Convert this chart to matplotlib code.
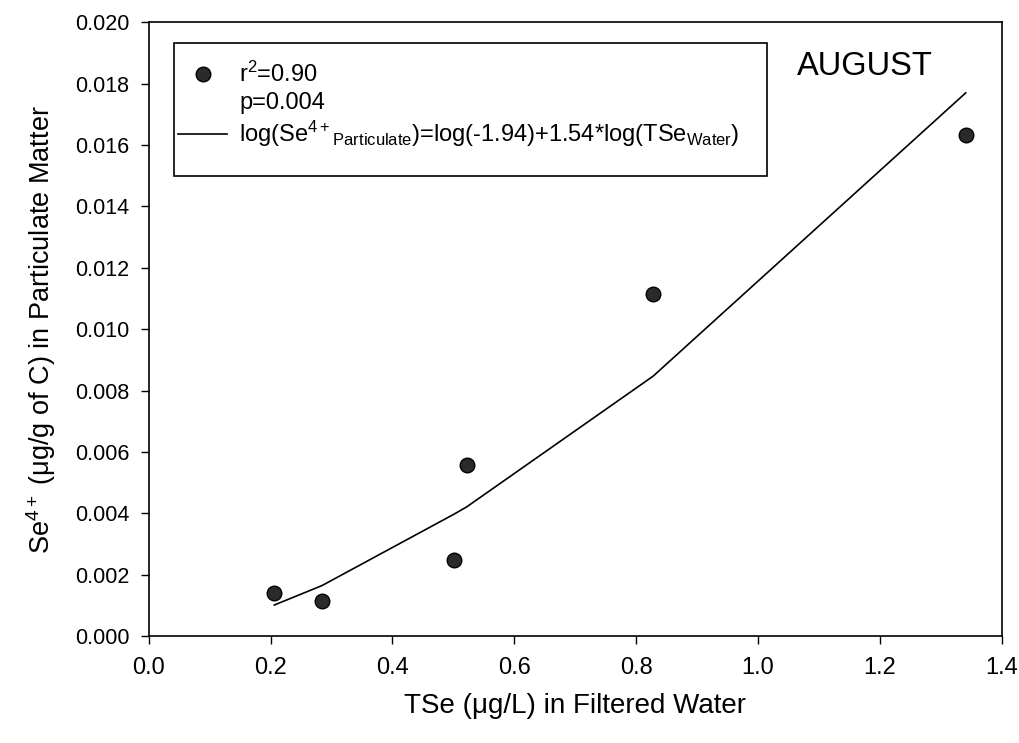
import matplotlib
matplotlib.use("Agg")
import matplotlib.pyplot as plt
from matplotlib.lines import Line2D
from matplotlib.patches import Rectangle

plt.rcParams['font.family'] = ['Liberation Sans', 'DejaVu Sans']
plt.rcParams['mathtext.fontset'] = 'custom'
plt.rcParams['mathtext.rm'] = 'Liberation Sans'
plt.rcParams['mathtext.it'] = 'Liberation Sans:italic'
plt.rcParams['mathtext.bf'] = 'Liberation Sans:bold'

# data
tse_water = [0.206, 0.284, 0.501, 0.522, 0.828, 1.341]
se4_particulate = [0.00139, 0.00114, 0.00248, 0.00557, 0.01113, 0.01632]
fit_values = [0.00101, 0.00164, 0.00397, 0.00421, 0.00847, 0.0177]

x_ticks = [0.0, 0.2, 0.4, 0.6, 0.8, 1.0, 1.2, 1.4]
y_ticks = [0.000, 0.002, 0.004, 0.006, 0.008, 0.010, 0.012, 0.014, 0.016, 0.018, 0.020]

fig = plt.figure(figsize=(10.19, 7.43), dpi=100)
ax = fig.add_axes([0.146, 0.144, 0.837, 0.826])

ax.plot(tse_water, se4_particulate, 'o', color='#2a2a2a', markeredgecolor='black',
        markersize=10.5, zorder=3)
ax.plot(tse_water, fit_values, '-', color='black', linewidth=1.2)

ax.set_xlim(0, 1.4)
ax.set_ylim(0, 0.020)
ax.set_xticks(x_ticks)
ax.set_yticks(y_ticks)
ax.set_xticklabels(['%.1f' % v for v in x_ticks])
ax.set_yticklabels(['%.3f' % v for v in y_ticks])
ax.tick_params(direction='out', length=6, width=1, pad=8, colors='black')
ax.tick_params(axis='y', labelsize=15.5)
ax.tick_params(axis='x', labelsize=17, pad=9)

for s in ax.spines.values():
    s.set_linewidth(1.2)

ax.set_xlabel('TSe (μg/L) in Filtered Water', fontsize=20, labelpad=10)
ax.set_ylabel('Se$^{4+}$ (μg/g of C) in Particulate Matter', fontsize=19.5, labelpad=12)

# legend box drawn separately so its padding can follow the original
ax.add_patch(Rectangle((0.0293, 0.749), 0.696, 0.217, transform=ax.transAxes,
                       fill=False, edgecolor='black', linewidth=1.2, zorder=4))

handles = [
    Line2D([], [], marker='o', linestyle='none', color='#2a2a2a',
           markeredgecolor='black', markersize=10.5),
    Line2D([], [], linestyle='none'),
    Line2D([], [], color='black', linewidth=1.2),
]
labels = [
    'r$^2$=0.90',
    'p=0.004',
    'log(Se$^{4+}$$_{\\mathregular{Particulate}}$)=log(-1.94)+1.54*log(TSe$_{\\mathregular{Water}}$)',
]
leg = ax.legend(handles, labels, loc='upper left', bbox_to_anchor=(0.034, 0.936),
                fontsize=17, frameon=False, handlelength=2.1, handletextpad=0.5,
                labelspacing=0.22, borderpad=0, borderaxespad=0)

ax.text(0.76, 0.928, 'AUGUST', transform=ax.transAxes, fontsize=23.5, ha='left', va='center')

fig.savefig('out.png', dpi=100)
